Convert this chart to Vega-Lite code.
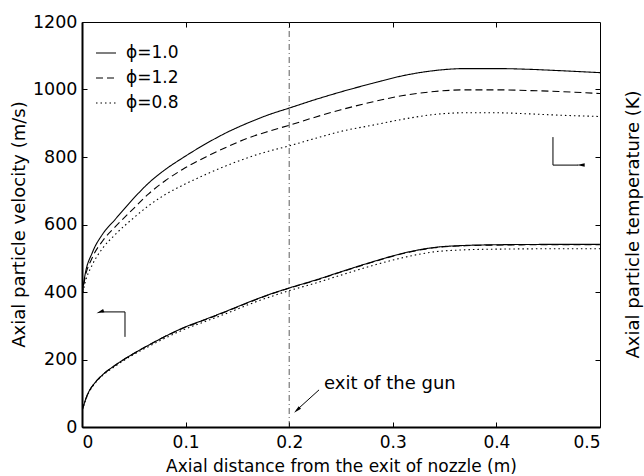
{
  "$schema": "https://vega.github.io/schema/vega-lite/v6.json",
  "width": 518,
  "height": 405,
  "autosize": "none",
  "padding": {"left": 82, "top": 22, "right": 44, "bottom": 49},
  "background": "white",
  "config": {
    "font": "DejaVu Sans",
    "view": {"stroke": "black", "strokeWidth": 1},
    "axis": {"grid": false, "labelFont": "DejaVu Sans", "titleFont": "DejaVu Sans", "labelColor": "black", "titleColor": "black", "tickColor": "black", "domainColor": "black", "titleFontWeight": "normal"}
  },
  "datasets": {
    "curves": [
      {"x": 0, "val": 392, "phi": "1.0", "qty": "T"},
      {"x": 0.003, "val": 452, "phi": "1.0", "qty": "T"},
      {"x": 0.01, "val": 517, "phi": "1.0", "qty": "T"},
      {"x": 0.02, "val": 572, "phi": "1.0", "qty": "T"},
      {"x": 0.032, "val": 615, "phi": "1.0", "qty": "T"},
      {"x": 0.05, "val": 678, "phi": "1.0", "qty": "T"},
      {"x": 0.064, "val": 722, "phi": "1.0", "qty": "T"},
      {"x": 0.08, "val": 762, "phi": "1.0", "qty": "T"},
      {"x": 0.097, "val": 797, "phi": "1.0", "qty": "T"},
      {"x": 0.12, "val": 840, "phi": "1.0", "qty": "T"},
      {"x": 0.14, "val": 873, "phi": "1.0", "qty": "T"},
      {"x": 0.161, "val": 902, "phi": "1.0", "qty": "T"},
      {"x": 0.18, "val": 925, "phi": "1.0", "qty": "T"},
      {"x": 0.2, "val": 945, "phi": "1.0", "qty": "T"},
      {"x": 0.225, "val": 970, "phi": "1.0", "qty": "T"},
      {"x": 0.25, "val": 993, "phi": "1.0", "qty": "T"},
      {"x": 0.28, "val": 1018, "phi": "1.0", "qty": "T"},
      {"x": 0.31, "val": 1041, "phi": "1.0", "qty": "T"},
      {"x": 0.34, "val": 1056, "phi": "1.0", "qty": "T"},
      {"x": 0.37, "val": 1062, "phi": "1.0", "qty": "T"},
      {"x": 0.4, "val": 1062, "phi": "1.0", "qty": "T"},
      {"x": 0.43, "val": 1060, "phi": "1.0", "qty": "T"},
      {"x": 0.46, "val": 1056, "phi": "1.0", "qty": "T"},
      {"x": 0.5, "val": 1050, "phi": "1.0", "qty": "T"},
      {"x": 0, "val": 390, "phi": "1.2", "qty": "T"},
      {"x": 0.003, "val": 443, "phi": "1.2", "qty": "T"},
      {"x": 0.01, "val": 502, "phi": "1.2", "qty": "T"},
      {"x": 0.02, "val": 552, "phi": "1.2", "qty": "T"},
      {"x": 0.032, "val": 593, "phi": "1.2", "qty": "T"},
      {"x": 0.05, "val": 648, "phi": "1.2", "qty": "T"},
      {"x": 0.064, "val": 690, "phi": "1.2", "qty": "T"},
      {"x": 0.08, "val": 729, "phi": "1.2", "qty": "T"},
      {"x": 0.097, "val": 763, "phi": "1.2", "qty": "T"},
      {"x": 0.12, "val": 801, "phi": "1.2", "qty": "T"},
      {"x": 0.14, "val": 830, "phi": "1.2", "qty": "T"},
      {"x": 0.161, "val": 857, "phi": "1.2", "qty": "T"},
      {"x": 0.18, "val": 876, "phi": "1.2", "qty": "T"},
      {"x": 0.2, "val": 894, "phi": "1.2", "qty": "T"},
      {"x": 0.225, "val": 918, "phi": "1.2", "qty": "T"},
      {"x": 0.25, "val": 940, "phi": "1.2", "qty": "T"},
      {"x": 0.28, "val": 963, "phi": "1.2", "qty": "T"},
      {"x": 0.31, "val": 982, "phi": "1.2", "qty": "T"},
      {"x": 0.34, "val": 994, "phi": "1.2", "qty": "T"},
      {"x": 0.37, "val": 999, "phi": "1.2", "qty": "T"},
      {"x": 0.4, "val": 999, "phi": "1.2", "qty": "T"},
      {"x": 0.43, "val": 997, "phi": "1.2", "qty": "T"},
      {"x": 0.46, "val": 994, "phi": "1.2", "qty": "T"},
      {"x": 0.5, "val": 988, "phi": "1.2", "qty": "T"},
      {"x": 0, "val": 386, "phi": "0.8", "qty": "T"},
      {"x": 0.003, "val": 428, "phi": "0.8", "qty": "T"},
      {"x": 0.01, "val": 481, "phi": "0.8", "qty": "T"},
      {"x": 0.02, "val": 530, "phi": "0.8", "qty": "T"},
      {"x": 0.032, "val": 570, "phi": "0.8", "qty": "T"},
      {"x": 0.05, "val": 620, "phi": "0.8", "qty": "T"},
      {"x": 0.064, "val": 655, "phi": "0.8", "qty": "T"},
      {"x": 0.08, "val": 688, "phi": "0.8", "qty": "T"},
      {"x": 0.097, "val": 716, "phi": "0.8", "qty": "T"},
      {"x": 0.12, "val": 749, "phi": "0.8", "qty": "T"},
      {"x": 0.14, "val": 775, "phi": "0.8", "qty": "T"},
      {"x": 0.161, "val": 799, "phi": "0.8", "qty": "T"},
      {"x": 0.18, "val": 817, "phi": "0.8", "qty": "T"},
      {"x": 0.2, "val": 833, "phi": "0.8", "qty": "T"},
      {"x": 0.225, "val": 855, "phi": "0.8", "qty": "T"},
      {"x": 0.25, "val": 876, "phi": "0.8", "qty": "T"},
      {"x": 0.28, "val": 894, "phi": "0.8", "qty": "T"},
      {"x": 0.31, "val": 912, "phi": "0.8", "qty": "T"},
      {"x": 0.34, "val": 926, "phi": "0.8", "qty": "T"},
      {"x": 0.37, "val": 931, "phi": "0.8", "qty": "T"},
      {"x": 0.4, "val": 931, "phi": "0.8", "qty": "T"},
      {"x": 0.43, "val": 928, "phi": "0.8", "qty": "T"},
      {"x": 0.46, "val": 924, "phi": "0.8", "qty": "T"},
      {"x": 0.5, "val": 920, "phi": "0.8", "qty": "T"},
      {"x": 0, "val": 48, "phi": "1.0", "qty": "V"},
      {"x": 0.005, "val": 94, "phi": "1.0", "qty": "V"},
      {"x": 0.013, "val": 133, "phi": "1.0", "qty": "V"},
      {"x": 0.02, "val": 155, "phi": "1.0", "qty": "V"},
      {"x": 0.032, "val": 183, "phi": "1.0", "qty": "V"},
      {"x": 0.05, "val": 218, "phi": "1.0", "qty": "V"},
      {"x": 0.064, "val": 242, "phi": "1.0", "qty": "V"},
      {"x": 0.08, "val": 268, "phi": "1.0", "qty": "V"},
      {"x": 0.097, "val": 293, "phi": "1.0", "qty": "V"},
      {"x": 0.12, "val": 320, "phi": "1.0", "qty": "V"},
      {"x": 0.14, "val": 344, "phi": "1.0", "qty": "V"},
      {"x": 0.161, "val": 370, "phi": "1.0", "qty": "V"},
      {"x": 0.18, "val": 392, "phi": "1.0", "qty": "V"},
      {"x": 0.2, "val": 412, "phi": "1.0", "qty": "V"},
      {"x": 0.225, "val": 435, "phi": "1.0", "qty": "V"},
      {"x": 0.25, "val": 460, "phi": "1.0", "qty": "V"},
      {"x": 0.28, "val": 489, "phi": "1.0", "qty": "V"},
      {"x": 0.31, "val": 515, "phi": "1.0", "qty": "V"},
      {"x": 0.34, "val": 532, "phi": "1.0", "qty": "V"},
      {"x": 0.37, "val": 538, "phi": "1.0", "qty": "V"},
      {"x": 0.4, "val": 540, "phi": "1.0", "qty": "V"},
      {"x": 0.45, "val": 541, "phi": "1.0", "qty": "V"},
      {"x": 0.5, "val": 541, "phi": "1.0", "qty": "V"},
      {"x": 0, "val": 48, "phi": "1.2", "qty": "V"},
      {"x": 0.005, "val": 94, "phi": "1.2", "qty": "V"},
      {"x": 0.013, "val": 133, "phi": "1.2", "qty": "V"},
      {"x": 0.02, "val": 155, "phi": "1.2", "qty": "V"},
      {"x": 0.032, "val": 183, "phi": "1.2", "qty": "V"},
      {"x": 0.05, "val": 218, "phi": "1.2", "qty": "V"},
      {"x": 0.064, "val": 242, "phi": "1.2", "qty": "V"},
      {"x": 0.08, "val": 268, "phi": "1.2", "qty": "V"},
      {"x": 0.097, "val": 292, "phi": "1.2", "qty": "V"},
      {"x": 0.12, "val": 319, "phi": "1.2", "qty": "V"},
      {"x": 0.14, "val": 343, "phi": "1.2", "qty": "V"},
      {"x": 0.161, "val": 369, "phi": "1.2", "qty": "V"},
      {"x": 0.18, "val": 391, "phi": "1.2", "qty": "V"},
      {"x": 0.2, "val": 411, "phi": "1.2", "qty": "V"},
      {"x": 0.225, "val": 434, "phi": "1.2", "qty": "V"},
      {"x": 0.25, "val": 459, "phi": "1.2", "qty": "V"},
      {"x": 0.28, "val": 488, "phi": "1.2", "qty": "V"},
      {"x": 0.31, "val": 514, "phi": "1.2", "qty": "V"},
      {"x": 0.34, "val": 531, "phi": "1.2", "qty": "V"},
      {"x": 0.37, "val": 537, "phi": "1.2", "qty": "V"},
      {"x": 0.4, "val": 539, "phi": "1.2", "qty": "V"},
      {"x": 0.45, "val": 540, "phi": "1.2", "qty": "V"},
      {"x": 0.5, "val": 540, "phi": "1.2", "qty": "V"},
      {"x": 0, "val": 48, "phi": "0.8", "qty": "V"},
      {"x": 0.005, "val": 92, "phi": "0.8", "qty": "V"},
      {"x": 0.013, "val": 131, "phi": "0.8", "qty": "V"},
      {"x": 0.02, "val": 153, "phi": "0.8", "qty": "V"},
      {"x": 0.032, "val": 180, "phi": "0.8", "qty": "V"},
      {"x": 0.05, "val": 215, "phi": "0.8", "qty": "V"},
      {"x": 0.064, "val": 238, "phi": "0.8", "qty": "V"},
      {"x": 0.08, "val": 263, "phi": "0.8", "qty": "V"},
      {"x": 0.097, "val": 287, "phi": "0.8", "qty": "V"},
      {"x": 0.12, "val": 314, "phi": "0.8", "qty": "V"},
      {"x": 0.14, "val": 337, "phi": "0.8", "qty": "V"},
      {"x": 0.161, "val": 363, "phi": "0.8", "qty": "V"},
      {"x": 0.18, "val": 384, "phi": "0.8", "qty": "V"},
      {"x": 0.2, "val": 404, "phi": "0.8", "qty": "V"},
      {"x": 0.225, "val": 426, "phi": "0.8", "qty": "V"},
      {"x": 0.25, "val": 450, "phi": "0.8", "qty": "V"},
      {"x": 0.28, "val": 478, "phi": "0.8", "qty": "V"},
      {"x": 0.31, "val": 502, "phi": "0.8", "qty": "V"},
      {"x": 0.34, "val": 519, "phi": "0.8", "qty": "V"},
      {"x": 0.37, "val": 525, "phi": "0.8", "qty": "V"},
      {"x": 0.4, "val": 527, "phi": "0.8", "qty": "V"},
      {"x": 0.45, "val": 528, "phi": "0.8", "qty": "V"},
      {"x": 0.5, "val": 528, "phi": "0.8", "qty": "V"}
    ],
    "segments": [
      {"x": 0.2288, "y": 110, "x2": 0.2065, "y2": 48},
      {"x": 0.0415, "y": 341, "x2": 0.019, "y2": 341},
      {"x": 0.0415, "y": 341, "x2": 0.0415, "y2": 267},
      {"x": 0.4546, "y": 859, "x2": 0.4546, "y2": 776},
      {"x": 0.4546, "y": 776, "x2": 0.479, "y2": 776}
    ],
    "heads": [
      {"x": 0.2075, "y": 50, "dir": "downleft"},
      {"x": 0.0175, "y": 341, "dir": "left"},
      {"x": 0.4815, "y": 776, "dir": "right"}
    ],
    "exit": [{"x": 0.2, "label": "exit of the gun", "lx": 0.2336, "ly": 127}]
  },
  "resolve": {"axis": {"x": "independent", "y": "independent"}},
  "layer": [
    {
      "data": {"name": "curves"},
      "mark": {"type": "line", "color": "black", "strokeWidth": 1.1, "clip": true, "interpolate": "monotone"},
      "encoding": {
        "x": {"field": "x", "type": "quantitative", "scale": {"domain": [0, 0.5], "nice": false},
          "axis": {"orient": "bottom", "values": [0, 0.1, 0.2, 0.3, 0.4, 0.5], "labelExpr": "datum.value == 0 ? '0' : format(datum.value, '.1f')", "labelFontSize": 17, "labelPadding": 12, "tickSize": -5, "domainWidth": 2, "title": "Axial distance from the exit of nozzle (m)", "titleFontSize": 17, "titleX": 259, "titleY": 39, "titleBaseline": "middle"}},
        "y": {"field": "val", "type": "quantitative", "scale": {"domain": [0, 1200], "nice": false},
          "axis": {"orient": "left", "values": [0, 200, 400, 600, 800, 1000, 1200], "format": "d", "labelFontSize": 17.5, "labelPadding": 10, "tickSize": -5, "domainWidth": 2, "title": "Axial particle velocity (m/s)", "titleFontSize": 18, "titleX": -63, "titleY": 202, "titleBaseline": "middle"}},
        "strokeDash": {"field": "phi", "type": "nominal",
          "scale": {"domain": ["1.0", "1.2", "0.8"], "range": [[1, 0], [7, 4], [1.5, 3]]},
          "legend": {"title": null, "orient": "none", "legendX": 13, "legendY": 20, "padding": 0, "symbolType": "stroke", "symbolSize": 400, "symbolStrokeWidth": 1.2, "symbolStrokeColor": "black", "labelFontSize": 17, "labelFont": "DejaVu Sans", "labelColor": "black", "labelOffset": 9, "rowPadding": 6, "labelExpr": "'ϕ=' + datum.label"}},
        "detail": {"field": "qty", "type": "nominal"}
      }
    },
    {
      "data": {"name": "exit"},
      "mark": {"type": "rule", "color": "#333333", "strokeWidth": 0.8, "strokeDash": [6, 3, 1, 3]},
      "encoding": {
        "x": {"field": "x", "type": "quantitative",
          "axis": {"orient": "top", "values": [0.1, 0.2, 0.3, 0.4], "labels": false, "tickSize": -5, "domain": false, "title": null}},
        "y": {"datum": 0, "type": "quantitative",
          "axis": {"orient": "right", "values": [200, 400, 600, 800, 1000], "labels": false, "tickSize": -5, "domain": false, "title": "Axial particle temperature (K)", "titleFontSize": 18, "titleAngle": 270, "titleX": 33, "titleY": 202, "titleBaseline": "middle"}},
        "y2": {"datum": 1200}
      }
    },
    {
      "data": {"name": "exit"},
      "mark": {"type": "text", "align": "left", "baseline": "middle", "fontSize": 18, "font": "DejaVu Sans", "color": "black"},
      "encoding": {
        "x": {"field": "lx", "type": "quantitative", "axis": null},
        "y": {"field": "ly", "type": "quantitative", "axis": null},
        "text": {"field": "label"}
      }
    },
    {
      "data": {"name": "segments"},
      "mark": {"type": "rule", "color": "black", "strokeWidth": 1},
      "encoding": {
        "x": {"field": "x", "type": "quantitative", "axis": null},
        "y": {"field": "y", "type": "quantitative", "axis": null},
        "x2": {"field": "x2"},
        "y2": {"field": "y2"}
      }
    },
    {
      "data": {"name": "heads"},
      "mark": {"type": "point", "filled": true, "color": "black", "opacity": 1, "size": 60, "shape": "M0,-1L0.45,1L-0.45,1Z"},
      "encoding": {
        "x": {"field": "x", "type": "quantitative", "axis": null},
        "y": {"field": "y", "type": "quantitative", "axis": null},
        "angle": {"field": "dir", "type": "nominal", "scale": {"domain": ["downleft", "left", "right"], "range": [228, 270, 90]}, "legend": null}
      }
    }
  ]
}
